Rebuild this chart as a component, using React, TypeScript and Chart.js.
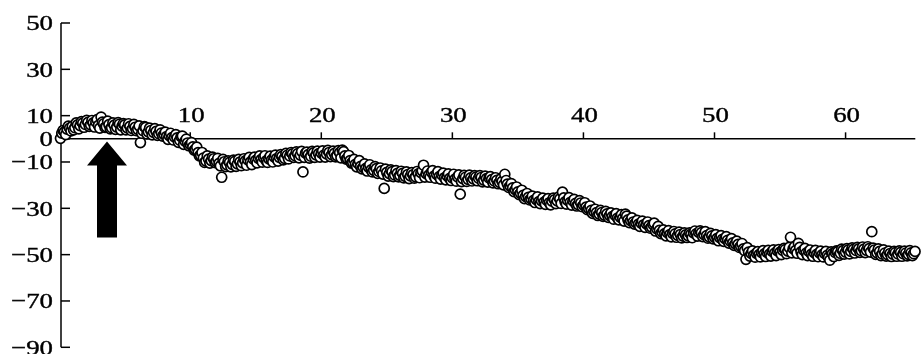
import React, { useEffect, useRef } from "react";
import { Chart, registerables } from "chart.js";

Chart.register(...registerables);

// Axis tick values
const xTickValues = [10, 20, 30, 40, 50, 60];
const yTickValues = [50, 30, 10, 0, -10, -30, -50, -70, -90];

// Recorded trace: each row is one unit of x, 5 samples per unit
const samplesPerUnit = 5;
const traceSegA: number[][] = [
  [1.2, 2.5, 3.0, 4.2, 4.6],
  [5.4, 4.8, 6.0, 5.7, 6.8],
  [6.2, 7.1, 6.0, 6.9, 7.3],
  [5.8, 9.4, 6.5, 5.2, 6.1],
  [4.8, 5.9, 5.1, 6.3, 5.5],
  [6.0, 4.7, 5.4, 4.4, 5.0],
  [4.1, -1.6, 3.5, 4.9, 3.0],
  [3.6, 2.8, 3.2, 2.2, 2.5],
  [1.9, 1.0, 1.4, 0.5, 0.8],
  [0.4, -0.6, 1.2, -1.0, -1.8],
  [-2.4, -3.5, -4.6, -6.0, -7.2],
  [-8.3, -9.6, -8.8, -9.4, -8.6],
  [-9.8, -10.6, -16.6, -9.9, -11.2],
  [-10.2, -11.0, -9.7, -10.8, -10.0],
  [-10.4, -9.5, -9.1, -10.0, -8.7],
  [-9.3, -8.4, -9.0, -8.1, -9.5],
  [-8.6, -9.2, -7.8, -8.5, -8.0],
];
const traceSegB: number[][] = [
  [-7.6, -8.4, -7.1, -7.4, -6.5],
  [-7.3, -6.4, -7.0, -14.3, -6.2],
  [-6.8, -7.5, -6.1, -6.9, -6.4],
  [-6.2, -7.0, -6.5, -5.9, -6.8],
  [-6.3, -7.2, -6.0, -4.9, -7.4],
  [-8.6, -9.4, -10.2, -11.0, -10.6],
  [-11.9, -12.3, -12.8, -12.2, -13.4],
  [-13.6, -12.9, -14.1, -13.8, -21.4],
  [-14.5, -15.0, -14.2, -15.6, -14.9],
  [-15.8, -14.9, -16.2, -15.4, -16.0],
  [-15.5, -16.4, -15.1, -14.6, -11.4],
  [-15.0, -15.7, -14.4, -16.1, -15.3],
  [-16.3, -15.6, -16.8, -16.0, -17.1],
  [-16.9, -17.4, -16.4, -23.9, -17.2],
  [-16.6, -17.5, -16.9, -17.3, -16.5],
  [-17.0, -16.7, -17.8, -17.2, -16.9],
  [-17.6, -18.2, -17.9, -18.8, -18.4],
];
const traceSegC: number[][] = [
  [-15.3, -19.6, -20.4, -21.2, -21.9],
  [-22.9, -23.5, -24.4, -24.9, -25.3],
  [-25.9, -26.6, -26.2, -27.1, -26.8],
  [-27.3, -26.5, -27.6, -26.9, -26.3],
  [-26.8, -25.9, -23.0, -27.2, -26.6],
  [-27.4, -26.8, -27.9, -28.4, -27.7],
  [-28.6, -29.5, -30.1, -30.9, -31.4],
  [-31.9, -32.5, -31.8, -32.9, -32.4],
  [-33.1, -33.6, -32.9, -34.2, -33.8],
  [-34.4, -32.5, -35.0, -35.3, -35.9],
  [-36.2, -36.8, -36.4, -37.1, -36.7],
  [-37.5, -38.1, -36.4, -38.9, -39.5],
  [-40.3, -40.9, -40.5, -41.3, -40.8],
  [-41.0, -41.7, -41.3, -42.0, -41.5],
  [-41.9, -41.2, -40.6, -41.0, -40.4],
  [-40.5, -41.4, -41.8, -42.3, -41.9],
];
const traceSegD: number[][] = [
  [-42.5, -43.0, -42.6, -43.4, -43.1],
  [-43.8, -44.2, -44.9, -45.3, -45.6],
  [-46.4, -47.5, -52.0, -48.9, -49.5],
  [-50.2, -49.4, -50.0, -49.1, -49.7],
  [-49.0, -49.8, -48.6, -49.3, -48.4],
  [-48.9, -48.1, -47.8, -48.5, -42.5],
  [-47.4, -48.2, -45.1, -48.8, -48.0],
  [-49.3, -48.6, -49.8, -49.1, -49.9],
  [-49.2, -50.1, -49.5, -50.3, -52.4],
  [-49.6, -49.0, -48.7, -49.4, -48.3],
  [-48.9, -48.0, -48.6, -47.7, -48.2],
  [-47.5, -48.3, -47.6, -48.1, -47.4],
  [-40.1, -48.0, -49.2, -48.6, -49.7],
  [-49.3, -50.0, -49.5, -49.8, -49.1],
  [-49.7, -49.0, -49.6, -49.3, -49.9],
  [-49.2, -49.6],
];

// Interleaved samples, taken half a sample step later (x = unit + 0.1 + j/5)
const interleaveOffset = 0.1;
const traceSegA2: number[][] = [
  [0.2, 3.6, 1.8, 5.5, 3.4],
  [3.9, 6.9, 4.3, 7.4, 5.0],
  [8.0, 5.4, 7.9, 5.1, 8.3],
  [4.6, 7.2, 4.9, 7.6, 4.3],
  [6.9, 4.1, 7.0, 3.9, 6.6],
  [3.9, 6.5, 3.6, 6.2, 3.5],
  [5.6, 2.4, 5.3, 2.1, 4.6],
  [1.7, 4.4, 1.5, 3.9, 1.2],
  [2.9, -0.2, 2.4, -0.5, 1.8],
  [-1.5, 1.0, -2.4, -0.1, -3.0],
  [-1.6, -4.9, -3.6, -7.4, -5.9],
  [-10.2, -7.4, -10.5, -7.9, -10.3],
  [-8.4, -11.7, -8.9, -12.0, -9.5],
  [-12.1, -9.2, -11.9, -8.9, -11.6],
  [-8.6, -11.4, -8.0, -11.1, -7.9],
  [-10.4, -7.4, -10.1, -7.3, -10.2],
  [-7.5, -10.0, -7.0, -9.6, -6.8],
];
const traceSegB2: number[][] = [
  [-9.1, -6.3, -8.7, -5.9, -8.0],
  [-5.6, -8.2, -5.4, -8.0, -5.7],
  [-8.3, -5.4, -8.0, -5.3, -7.9],
  [-5.2, -7.9, -5.0, -7.7, -5.3],
  [-7.8, -5.1, -8.2, -5.5, -8.8],
  [-7.2, -10.5, -8.9, -12.1, -9.4],
  [-13.0, -10.8, -13.9, -11.2, -14.3],
  [-12.0, -14.9, -12.6, -15.2, -13.1],
  [-16.1, -13.4, -16.3, -13.7, -16.4],
  [-14.0, -16.9, -14.3, -17.2, -14.6],
  [-17.0, -14.1, -16.8, -13.8, -16.5],
  [-13.9, -16.6, -13.7, -17.0, -14.2],
  [-17.4, -14.8, -17.7, -15.1, -18.0],
  [-15.3, -18.3, -15.6, -18.5, -15.8],
  [-18.4, -15.7, -18.2, -15.9, -18.1],
  [-15.9, -18.6, -16.1, -18.7, -16.3],
  [-19.0, -16.8, -19.4, -17.3, -19.9],
];
const traceSegC2: number[][] = [
  [-18.0, -21.0, -19.3, -22.8, -20.8],
  [-24.1, -22.2, -25.8, -23.6, -26.4],
  [-24.7, -27.5, -25.1, -28.0, -25.6],
  [-28.3, -25.8, -28.5, -25.6, -28.0],
  [-25.2, -27.9, -25.5, -28.2, -25.4],
  [-28.6, -26.1, -29.0, -26.7, -29.3],
  [-27.6, -30.6, -29.0, -32.2, -30.4],
  [-33.1, -30.9, -33.5, -31.3, -33.9],
  [-32.0, -34.7, -32.3, -35.0, -32.7],
  [-35.5, -33.4, -36.2, -34.1, -36.8],
  [-35.2, -37.8, -35.5, -38.2, -35.9],
  [-38.6, -36.9, -39.8, -37.8, -40.9],
  [-39.3, -41.9, -39.6, -42.3, -40.0],
  [-42.5, -40.3, -42.8, -40.6, -42.6],
  [-40.6, -42.7, -39.8, -42.0, -39.7],
  [-42.2, -40.1, -42.9, -40.8, -43.2],
];
const traceSegD2: number[][] = [
  [-41.4, -44.0, -41.8, -44.3, -42.2],
  [-45.0, -43.1, -46.0, -44.2, -46.9],
  [-45.2, -48.3, -47.0, -50.6, -48.4],
  [-51.1, -48.7, -51.0, -48.3, -50.8],
  [-48.2, -50.6, -47.9, -50.4, -47.8],
  [-50.0, -47.3, -49.6, -46.9, -49.2],
  [-46.6, -49.4, -46.9, -50.0, -47.3],
  [-50.4, -48.0, -50.7, -48.2, -50.9],
  [-48.5, -51.0, -48.6, -51.2, -48.8],
  [-50.8, -48.4, -50.3, -47.6, -49.8],
  [-47.4, -49.7, -47.1, -49.3, -46.9],
  [-49.0, -46.7, -49.1, -46.6, -48.9],
  [-47.2, -49.9, -47.5, -50.4, -47.9],
  [-50.6, -48.5, -50.8, -48.6, -50.7],
  [-48.4, -50.7, -48.5, -50.5, -48.3],
  [-50.4, -48.6],
];

// Arrow annotation (data coordinates)
const arrowX = 3.65;
const arrowTipY = -1.2;
const arrowHeadBaseY = -11.5;
const arrowTailY = -42.6;

const X_MIN = 0.14;
const X_MAX = 65.32;
const Y_MIN = -90;
const Y_MAX = 50;

const FONT = '"Liberation Serif", "Times New Roman", Times, serif';
const LABEL_STRETCH = 1.22;

function rowsToPoints(rows: number[][], offset: number) {
  const pts: { x: number; y: number }[] = [];
  rows.forEach((row, i) => {
    row.forEach((v, j) => {
      pts.push({ x: i + offset + j / samplesPerUnit, y: v });
    });
  });
  return pts;
}

function buildPoints() {
  const main = rowsToPoints([...traceSegA, ...traceSegB, ...traceSegC, ...traceSegD], 0);
  const inter = rowsToPoints(
    [...traceSegA2, ...traceSegB2, ...traceSegC2, ...traceSegD2],
    interleaveOffset
  );
  const all: { x: number; y: number }[] = [];
  const n = Math.max(main.length, inter.length);
  for (let i = 0; i < n; i++) {
    if (i < main.length) all.push(main[i]);
    if (i < inter.length) all.push(inter[i]);
  }
  return all;
}

const minusFmt = (v: number) => (v < 0 ? "\u2212" + Math.abs(v) : String(v));

function stretchedText(ctx: CanvasRenderingContext2D, text: string, x: number, y: number) {
  ctx.save();
  ctx.translate(x, y);
  ctx.scale(LABEL_STRETCH, 1);
  ctx.fillText(text, 0, 0);
  ctx.lineWidth = 0.4;
  ctx.strokeText(text, 0, 0);
  ctx.restore();
}

const axesPlugin = {
  id: "customAxes",
  beforeDatasetsDraw(chart: any) {
    const { ctx, chartArea, scales } = chart;
    const xs = scales.x;
    const ys = scales.y;
    const y0 = ys.getPixelForValue(0);
    ctx.save();
    ctx.strokeStyle = "#000";
    ctx.fillStyle = "#000";
    ctx.lineWidth = 1.5;
    // y axis line
    ctx.beginPath();
    ctx.moveTo(chartArea.left, chartArea.top);
    ctx.lineTo(chartArea.left, chartArea.bottom);
    ctx.stroke();
    // y ticks (inward) and labels
    ctx.font = "22px " + FONT;
    ctx.textAlign = "right";
    ctx.textBaseline = "alphabetic";
    yTickValues.forEach((v) => {
      const py = ys.getPixelForValue(v);
      ctx.lineWidth = 1.5;
      ctx.beginPath();
      ctx.moveTo(chartArea.left, py);
      ctx.lineTo(chartArea.left + 9, py);
      ctx.stroke();
      stretchedText(ctx, minusFmt(v), chartArea.left - 8, py + 7.3);
    });
    // x axis line at y = 0
    ctx.lineWidth = 1.5;
    ctx.beginPath();
    ctx.moveTo(chartArea.left, y0);
    ctx.lineTo(chartArea.right, y0);
    ctx.stroke();
    // x ticks (upward) and labels above
    ctx.textAlign = "center";
    xTickValues.forEach((v) => {
      const px = xs.getPixelForValue(v);
      ctx.lineWidth = 1.5;
      ctx.beginPath();
      ctx.moveTo(px, y0);
      ctx.lineTo(px, y0 - 6.5);
      ctx.stroke();
      stretchedText(ctx, String(v), px + 1, y0 - 17);
    });
    ctx.restore();
  },
  afterDatasetsDraw(chart: any) {
    const { ctx, scales } = chart;
    const xs = scales.x;
    const ys = scales.y;
    const cx = xs.getPixelForValue(arrowX);
    const tip = ys.getPixelForValue(arrowTipY);
    const headBase = ys.getPixelForValue(arrowHeadBaseY);
    const tail = ys.getPixelForValue(arrowTailY);
    const headHalf = 20;
    const shaftHalf = 10;
    ctx.save();
    ctx.fillStyle = "#000";
    ctx.beginPath();
    ctx.moveTo(cx, tip);
    ctx.lineTo(cx + headHalf, headBase);
    ctx.lineTo(cx + shaftHalf, headBase);
    ctx.lineTo(cx + shaftHalf, tail);
    ctx.lineTo(cx - shaftHalf, tail);
    ctx.lineTo(cx - shaftHalf, headBase);
    ctx.lineTo(cx - headHalf, headBase);
    ctx.closePath();
    ctx.fill();
    ctx.restore();
  },
};

export default function App() {
  const canvasRef = useRef<HTMLCanvasElement | null>(null);

  useEffect(() => {
    if (!canvasRef.current) return;
    const chart = new Chart(canvasRef.current, {
      type: "scatter",
      data: {
        datasets: [
          {
            data: buildPoints(),
            pointRadius: 5,
            pointHoverRadius: 5,
            pointBorderWidth: 1.7,
            pointBackgroundColor: "#ffffff",
            pointBorderColor: "#000000",
            showLine: false,
            clip: false as any,
          },
        ],
      },
      options: {
        animation: false,
        responsive: true,
        maintainAspectRatio: false,
        events: [],
        layout: { padding: { top: 23, right: 0, bottom: 6, left: 0 } },
        plugins: {
          legend: { display: false },
          tooltip: { enabled: false },
          title: { display: false },
        },
        scales: {
          x: {
            type: "linear",
            display: false,
            min: X_MIN,
            max: X_MAX,
          },
          y: {
            type: "linear",
            min: Y_MIN,
            max: Y_MAX,
            position: "left",
            grid: { display: false, drawTicks: false },
            border: { display: false },
            afterBuildTicks: (scale: any) => {
              scale.ticks = yTickValues.map((v) => ({ value: v }));
            },
            afterFit: (scale: any) => {
              scale.width = 61;
              scale.paddingTop = 0;
              scale.paddingBottom = 0;
            },
            ticks: { display: false },
          },
        },
      },
      plugins: [axesPlugin],
    });
    return () => chart.destroy();
  }, []);

  return (
    <div
      style={{
        position: "absolute",
        left: 0,
        top: 0,
        width: 922,
        height: 354,
        background: "#fff",
      }}
    >
      <canvas ref={canvasRef} />
    </div>
  );
}
